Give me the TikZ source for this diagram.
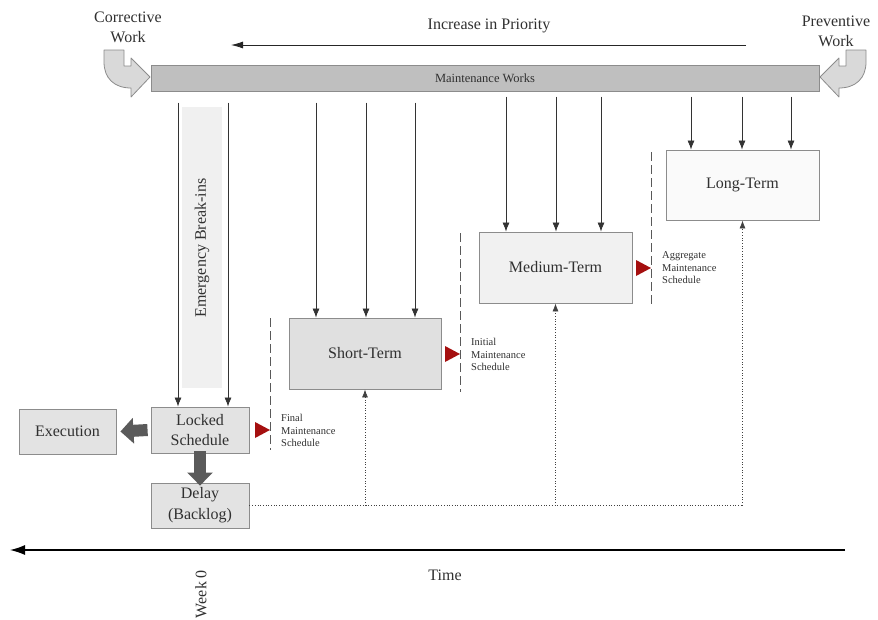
\documentclass[tikz,border=0pt]{standalone}
\usepackage{fontspec}
\setmainfont{Liberation Serif}
\newfontfamily\diagserif{Liberation Serif}
\usetikzlibrary{arrows.meta,calc}
\definecolor{boxline}{HTML}{8C8C8C}
\definecolor{txt}{HTML}{303030}
\definecolor{darkred}{HTML}{A50F0F}
\definecolor{thick}{HTML}{5A5A5A}
\tikzset{
  box/.style={draw=boxline, line width=0.9pt, fill=#1, text=txt, align=center, inner sep=0pt},
  box/.default={gray!22},
  bigfont/.style={font=\diagserif\fontsize{16}{20}\selectfont},
  arr/.style={draw=black!80, line width=0.7pt, -{Latex[length=9pt,width=7pt]}},
  dotarr/.style={draw=black!75, line width=0.7pt, dotted, -{Latex[length=8pt,width=6pt]}},
  dashline/.style={draw=black!65, line width=0.8pt, dash pattern=on 9pt off 4pt},
  lbl/.style={text=txt, font=\diagserif\fontsize{10.5}{12.5}\selectfont, align=left, anchor=west, inner sep=0pt},
  bigarr/.style={draw=thick, line width=12pt, -{Triangle[length=13pt,width=25pt]}},
  bent/.style={draw=boxline, line width=0.8pt, fill=gray!30, line join=round},
  redtri/.style={fill=darkred}
}
\begin{document}
\begin{tikzpicture}[x=1pt,y=-1pt]
\useasboundingbox (0,0) rectangle (878,619);

% top texts
\node[text=txt, align=center, bigfont] (corr) at (128,27) {Corrective\\Work};
\node[text=txt, align=center, bigfont] (prev) at (836,31) {Preventive\\Work};
\node[text=txt, bigfont] (prio) at (489,26) {Increase in Priority};
\coordinate (prioR) at (746,45);
\coordinate (prioL) at (231,45);
\draw[draw=black!85, line width=0.8pt, -{Latex[length=12pt,width=7pt]}] (prioR) -- (prioL);

% maintenance works bar
\node[box=gray!50, minimum width=668pt, minimum height=26pt, font=\diagserif\fontsize{12.5}{14}\selectfont] (bar) at (485,78) {Maintenance Works};

% bent arrows
\draw[bent] (104,50) -- (124,50) -- (124,66) -- (131,66) -- (131,58) -- (150,77) -- (131,97) -- (131,88)
  .. controls (114,88) and (104,78) .. (104,62) -- cycle;
\begin{scope}[shift={(970,0)}, xscale=-1]
\draw[bent] (104,50) -- (124,50) -- (124,66) -- (131,66) -- (131,58) -- (150,77) -- (131,97) -- (131,88)
  .. controls (114,88) and (104,78) .. (104,62) -- cycle;
\end{scope}

% emergency break-ins band
\fill[gray!12] (182,107) rectangle (222,388);
\node[rotate=90, text=txt, bigfont] (emerg) at (202,248) {Emergency Break-ins};

% boxes
\node[box, minimum width=98pt, minimum height=46pt, bigfont] (locked) at (200,430) {Locked\\Schedule};
\node[box, minimum width=97pt, minimum height=45pt, bigfont] (exec) at (67.5,431.5) {Execution};
\node[box, minimum width=98pt, minimum height=45pt, font=\diagserif\fontsize{16}{21}\selectfont] (delay) at (200,505.5) {Delay\\(Backlog)};
\node[box=gray!24, minimum width=152pt, minimum height=71pt, bigfont] (short) at (365,353.5) {Short-Term};
\node[box=gray!11, minimum width=153pt, minimum height=71pt, bigfont] (medium) at (555.5,267.5) {Medium-Term};
\node[box=gray!4, minimum width=153pt, minimum height=70pt, bigfont] (long) at (742.5,185) {Long-Term};

% emergency arrows
\draw[arr] ($(locked.north)+(-22,-304)$) -- ($(locked.north)+(-22,0)$);
\draw[arr] ($(locked.north)+(28,-304)$) -- ($(locked.north)+(28,0)$);

% short-term arrows
\foreach \dx in {-49,1,50} {
  \draw[arr] ($(short.north)+(\dx,-215)$) -- ($(short.north)+(\dx,0)$);
}
% medium-term arrows
\foreach \dx in {-49.5,0.5,45.5} {
  \draw[arr] ($(medium.north)+(\dx,-135)$) -- ($(medium.north)+(\dx,0)$);
}
% long-term arrows
\foreach \dx in {-51.5,-0.5,48.5} {
  \draw[arr] ($(long.north)+(\dx,-53)$) -- ($(long.north)+(\dx,0)$);
}

% thick gray arrows
\draw[bigarr] ([xshift=-3pt]locked.west) -- ([xshift=4pt]exec.east);
\draw[bigarr] ([yshift=2pt]locked.south) -- ([yshift=-3pt]delay.north);

% dashed lines and red triangles
\draw[dashline] (270,318) -- (270,450);
\draw[dashline] (460,233) -- (460,392);
\draw[dashline] (651,152) -- (651,305);
\fill[redtri] (255,422) -- (270,430) -- (255,438) -- cycle;
\fill[redtri] (445,346) -- (460,354) -- (445,362) -- cycle;
\fill[redtri] (636,260) -- (651,268) -- (636,276) -- cycle;

\node[lbl] (fms) at (281,430.5) {Final\\Maintenance\\Schedule};
\node[lbl] (ims) at (471,354.5) {Initial\\Maintenance\\Schedule};
\node[lbl] (ams) at (662,268) {Aggregate\\Maintenance\\Schedule};

% dotted feedback
\draw[draw=black!75, line width=0.7pt, dotted] (delay.east) -- (long.south |- delay.east);
\draw[dotarr] (short.south |- delay.east) -- (short.south);
\draw[dotarr] (medium.south |- delay.east) -- (medium.south);
\draw[dotarr] (long.south |- delay.east) -- (long.south);

% time axis
\coordinate (tR) at (845,550);
\coordinate (tL) at (10,550);
\draw[draw=black, line width=1.3pt, -{Latex[length=15pt,width=10pt]}] (tR) -- (tL);
\node[text=txt, bigfont] (time) at (445,575) {Time};
\node[rotate=90, text=txt, bigfont] (week) at (201,594) {Week 0};
\end{tikzpicture}
\end{document}
